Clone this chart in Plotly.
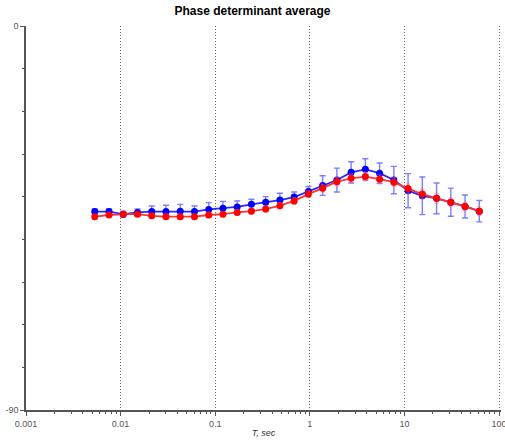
import plotly.graph_objects as go

periods = [0.00533 * (2 ** 0.5) ** i for i in range(28)]

blue_phase = [-43.5, -43.5, -44.1, -43.7, -43.5, -43.5, -43.4, -43.5, -43.0, -42.7,
              -42.4, -41.8, -41.3, -40.8, -40.1, -38.8, -37.4, -36.1, -34.3, -33.6,
              -34.5, -36.1, -38.6, -39.8, -40.4, -41.3, -42.3, -43.4]
blue_err = [0.6, 0.6, 0.7, 0.8, 1.3, 1.5, 1.6, 1.3, 1.6, 1.6,
            1.4, 1.2, 1.3, 1.6, 1.2, 1.2, 2.3, 2.8, 2.5, 2.5,
            2.4, 3.2, 4.0, 4.4, 3.6, 3.3, 2.7, 2.5]

red_phase = [-44.7, -44.3, -44.1, -44.1, -44.5, -44.7, -44.7, -44.7, -44.3, -44.1,
             -43.7, -43.4, -42.9, -42.1, -41.0, -39.4, -38.0, -36.5, -35.7, -35.3,
             -35.9, -36.6, -38.1, -39.4, -40.4, -41.3, -42.3, -43.4]
red_err = [0.5, 0.5, 0.5, 0.5, 0.6, 0.6, 0.6, 0.6, 0.6, 0.6,
           0.6, 0.6, 0.7, 0.7, 0.8, 0.8, 0.9, 1.0, 1.0, 1.0,
           1.0, 1.0, 1.1, 1.1, 1.1, 1.0, 1.0, 1.0]

x_major = [0.001, 0.01, 0.1, 1, 10, 100]
x_major_text = ["0.001", "0.01", "0.1", "1", "10", "100"]
x_minor = [m * d for d in [0.001, 0.01, 0.1, 1, 10] for m in range(2, 10)]
y_major = [0, -90]
y_major_text = ["0", "-90"]
y_minor = [-10, -20, -30, -40, -50, -60, -70, -80]

fig = go.Figure()
fig.add_trace(go.Scatter(
    x=periods, y=blue_phase, mode="lines+markers",
    line=dict(color="rgb(40,40,255)", width=1.8),
    marker=dict(color="rgb(0,0,255)", size=7),
    error_y=dict(type="data", array=blue_err, visible=True,
                 color="rgba(70,70,255,0.7)", thickness=1.4, width=3),
    showlegend=False))
fig.add_trace(go.Scatter(
    x=periods, y=red_phase, mode="lines+markers",
    line=dict(color="rgb(255,50,50)", width=1.8),
    marker=dict(color="rgb(255,0,0)", size=7),
    error_y=dict(type="data", array=red_err, visible=True,
                 color="rgba(255,100,100,0.55)", thickness=1.2, width=2),
    showlegend=False))
# empty trace to host the minor-tick overlay axes
fig.add_trace(go.Scatter(x=[None], y=[None], xaxis="x2", yaxis="y2",
                         showlegend=False, hoverinfo="skip"))

axis_font = dict(family="Liberation Sans, Arial", size=9, color="#555")

fig.update_layout(
    width=505, height=447,
    margin=dict(l=26, r=4, t=26, b=37, autoexpand=False),
    paper_bgcolor="white", plot_bgcolor="white",
    title=dict(text="<b>Phase determinant average</b>", x=0.5, xanchor="center",
               y=0.985, yanchor="top",
               font=dict(family="Liberation Sans, Arial", size=12, color="black")),
    font=axis_font,
    xaxis=dict(
        type="log", range=[-3, 2.02], automargin=False,
        tickmode="array", tickvals=x_major, ticktext=x_major_text,
        ticklabeloverflow="allow",
        ticks="outside", ticklen=4, tickcolor="#555", tickfont=axis_font,
        showgrid=True, gridcolor="#666", griddash="1px,2px", gridwidth=1,
        showline=True, linecolor="#555", linewidth=1.5, zeroline=False,
        title=dict(text="<i>T, sec</i>", standoff=2,
                   font=dict(family="Liberation Sans, Arial", size=9, color="#333")),
    ),
    xaxis2=dict(
        type="log", range=[-3, 2.02], overlaying="x", anchor="y", side="bottom",
        automargin=False, tickmode="array", tickvals=x_minor,
        ticktext=[""] * len(x_minor), ticks="outside", ticklen=3, tickcolor="#555",
        showgrid=False, showline=False, zeroline=False,
    ),
    yaxis=dict(
        range=[-90, 0], automargin=False,
        tickmode="array", tickvals=y_major, ticktext=y_major_text,
        ticklabeloverflow="allow",
        ticks="outside", ticklen=4, tickcolor="#555", tickfont=axis_font,
        showgrid=True, gridcolor="#666", griddash="1px,2px", gridwidth=1,
        showline=True, linecolor="#555", linewidth=1.5, zeroline=False,
    ),
    yaxis2=dict(
        range=[-90, 0], overlaying="y", anchor="x", side="left",
        automargin=False, tickmode="array", tickvals=y_minor,
        ticktext=[""] * len(y_minor), ticks="outside", ticklen=3, tickcolor="#555",
        showgrid=False, showline=False, zeroline=False,
    ),
)

fig.write_html(
    "out.html",
    config={"displayModeBar": False},
    post_script="document.body.style.margin='0';document.body.style.overflow='hidden';",
)
